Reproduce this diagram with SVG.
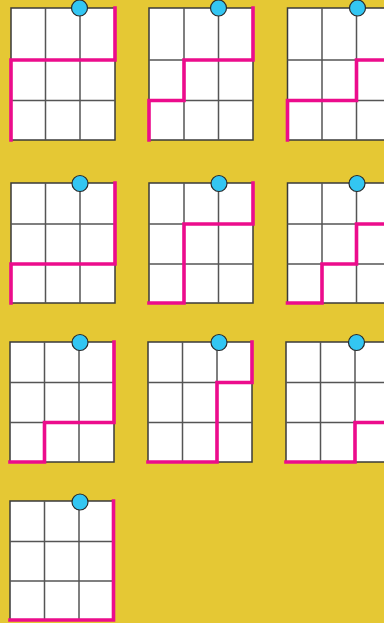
<svg xmlns="http://www.w3.org/2000/svg" width="384" height="623" viewBox="0 0 384 623">
<style>
.cell{fill:#fff;stroke:#3a3a3a;stroke-width:1.5}
.ln{fill:none;stroke:#555;stroke-width:1.5}
.route{fill:none;stroke:#EC0C8C;stroke-width:3.6;stroke-linejoin:miter;stroke-linecap:square}
.dot{fill:#33C6F2;stroke:#2a2a2a;stroke-width:1.2}
</style>
<rect width="384" height="623" fill="#E5C834"/>
<g id="grid1">
<rect class="cell" x="11" y="8" width="104" height="132"/>
<path class="ln" d="M45.5 8V140M80 8V140M11 60H115M11 100.5H115"/>
<polyline class="route" points="115,8 115,60 11,60 11,140"/>
<circle class="dot" cx="79.5" cy="8" r="8"/>
</g>
<g id="grid2">
<rect class="cell" x="149" y="8" width="104" height="132"/>
<path class="ln" d="M184 8V140M218.5 8V140M149 60H253M149 100.5H253"/>
<polyline class="route" points="253,8 253,60 184,60 184,100.5 149,100.5 149,140"/>
<circle class="dot" cx="218.5" cy="8" r="8"/>
</g>
<g id="grid3">
<rect class="cell" x="287.5" y="8" width="103.5" height="132"/>
<path class="ln" d="M322 8V140M356.5 8V140M287.5 60H391M287.5 100.5H391"/>
<polyline class="route" points="391,8 391,60 356.5,60 356.5,100.5 287.5,100.5 287.5,140"/>
<circle class="dot" cx="357.5" cy="8" r="8"/>
</g>
<g id="grid4">
<rect class="cell" x="11" y="183" width="104" height="120"/>
<path class="ln" d="M45.5 183V303M80 183V303M11 224H115M11 264H115"/>
<polyline class="route" points="115,183 115,264 11,264 11,303"/>
<circle class="dot" cx="80" cy="183.5" r="8"/>
</g>
<g id="grid5">
<rect class="cell" x="149" y="183" width="104" height="120"/>
<path class="ln" d="M184 183V303M218.5 183V303M149 224H253M149 264H253"/>
<polyline class="route" points="253,183 253,224 184,224 184,303 149,303"/>
<circle class="dot" cx="219" cy="183.5" r="8"/>
</g>
<g id="grid6">
<rect class="cell" x="287.5" y="183" width="103.5" height="120"/>
<path class="ln" d="M322 183V303M356.5 183V303M287.5 224H391M287.5 264H391"/>
<polyline class="route" points="391,183 391,224 356.5,224 356.5,264 322,264 322,303 287.5,303"/>
<circle class="dot" cx="357" cy="183.5" r="8"/>
</g>
<g id="grid7">
<rect class="cell" x="10" y="342" width="104" height="120"/>
<path class="ln" d="M44.5 342V462M79 342V462M10 382.5H114M10 422.5H114"/>
<polyline class="route" points="114,342 114,422.5 44.5,422.5 44.5,462 10,462"/>
<circle class="dot" cx="80" cy="342.5" r="8"/>
</g>
<g id="grid8">
<rect class="cell" x="148" y="342" width="104" height="120"/>
<path class="ln" d="M182.5 342V462M217 342V462M148 382.5H252M148 422.5H252"/>
<polyline class="route" points="252,342 252,382.5 217,382.5 217,462 148,462"/>
<circle class="dot" cx="219" cy="342.5" r="8"/>
</g>
<g id="grid9">
<rect class="cell" x="286" y="342" width="103.5" height="120"/>
<path class="ln" d="M320.5 342V462M355 342V462M286 382.5H389.5M286 422.5H389.5"/>
<polyline class="route" points="389.5,342 389.5,422.5 355,422.5 355,462 286,462"/>
<circle class="dot" cx="356.5" cy="342.5" r="8"/>
</g>
<g id="grid10">
<rect class="cell" x="10" y="501" width="103.5" height="119"/>
<path class="ln" d="M44.5 501V620M79 501V620M10 541.5H113.5M10 581H113.5"/>
<polyline class="route" points="113.5,501 113.5,620 10,620"/>
<circle class="dot" cx="80" cy="502" r="8"/>
</g>
</svg>
